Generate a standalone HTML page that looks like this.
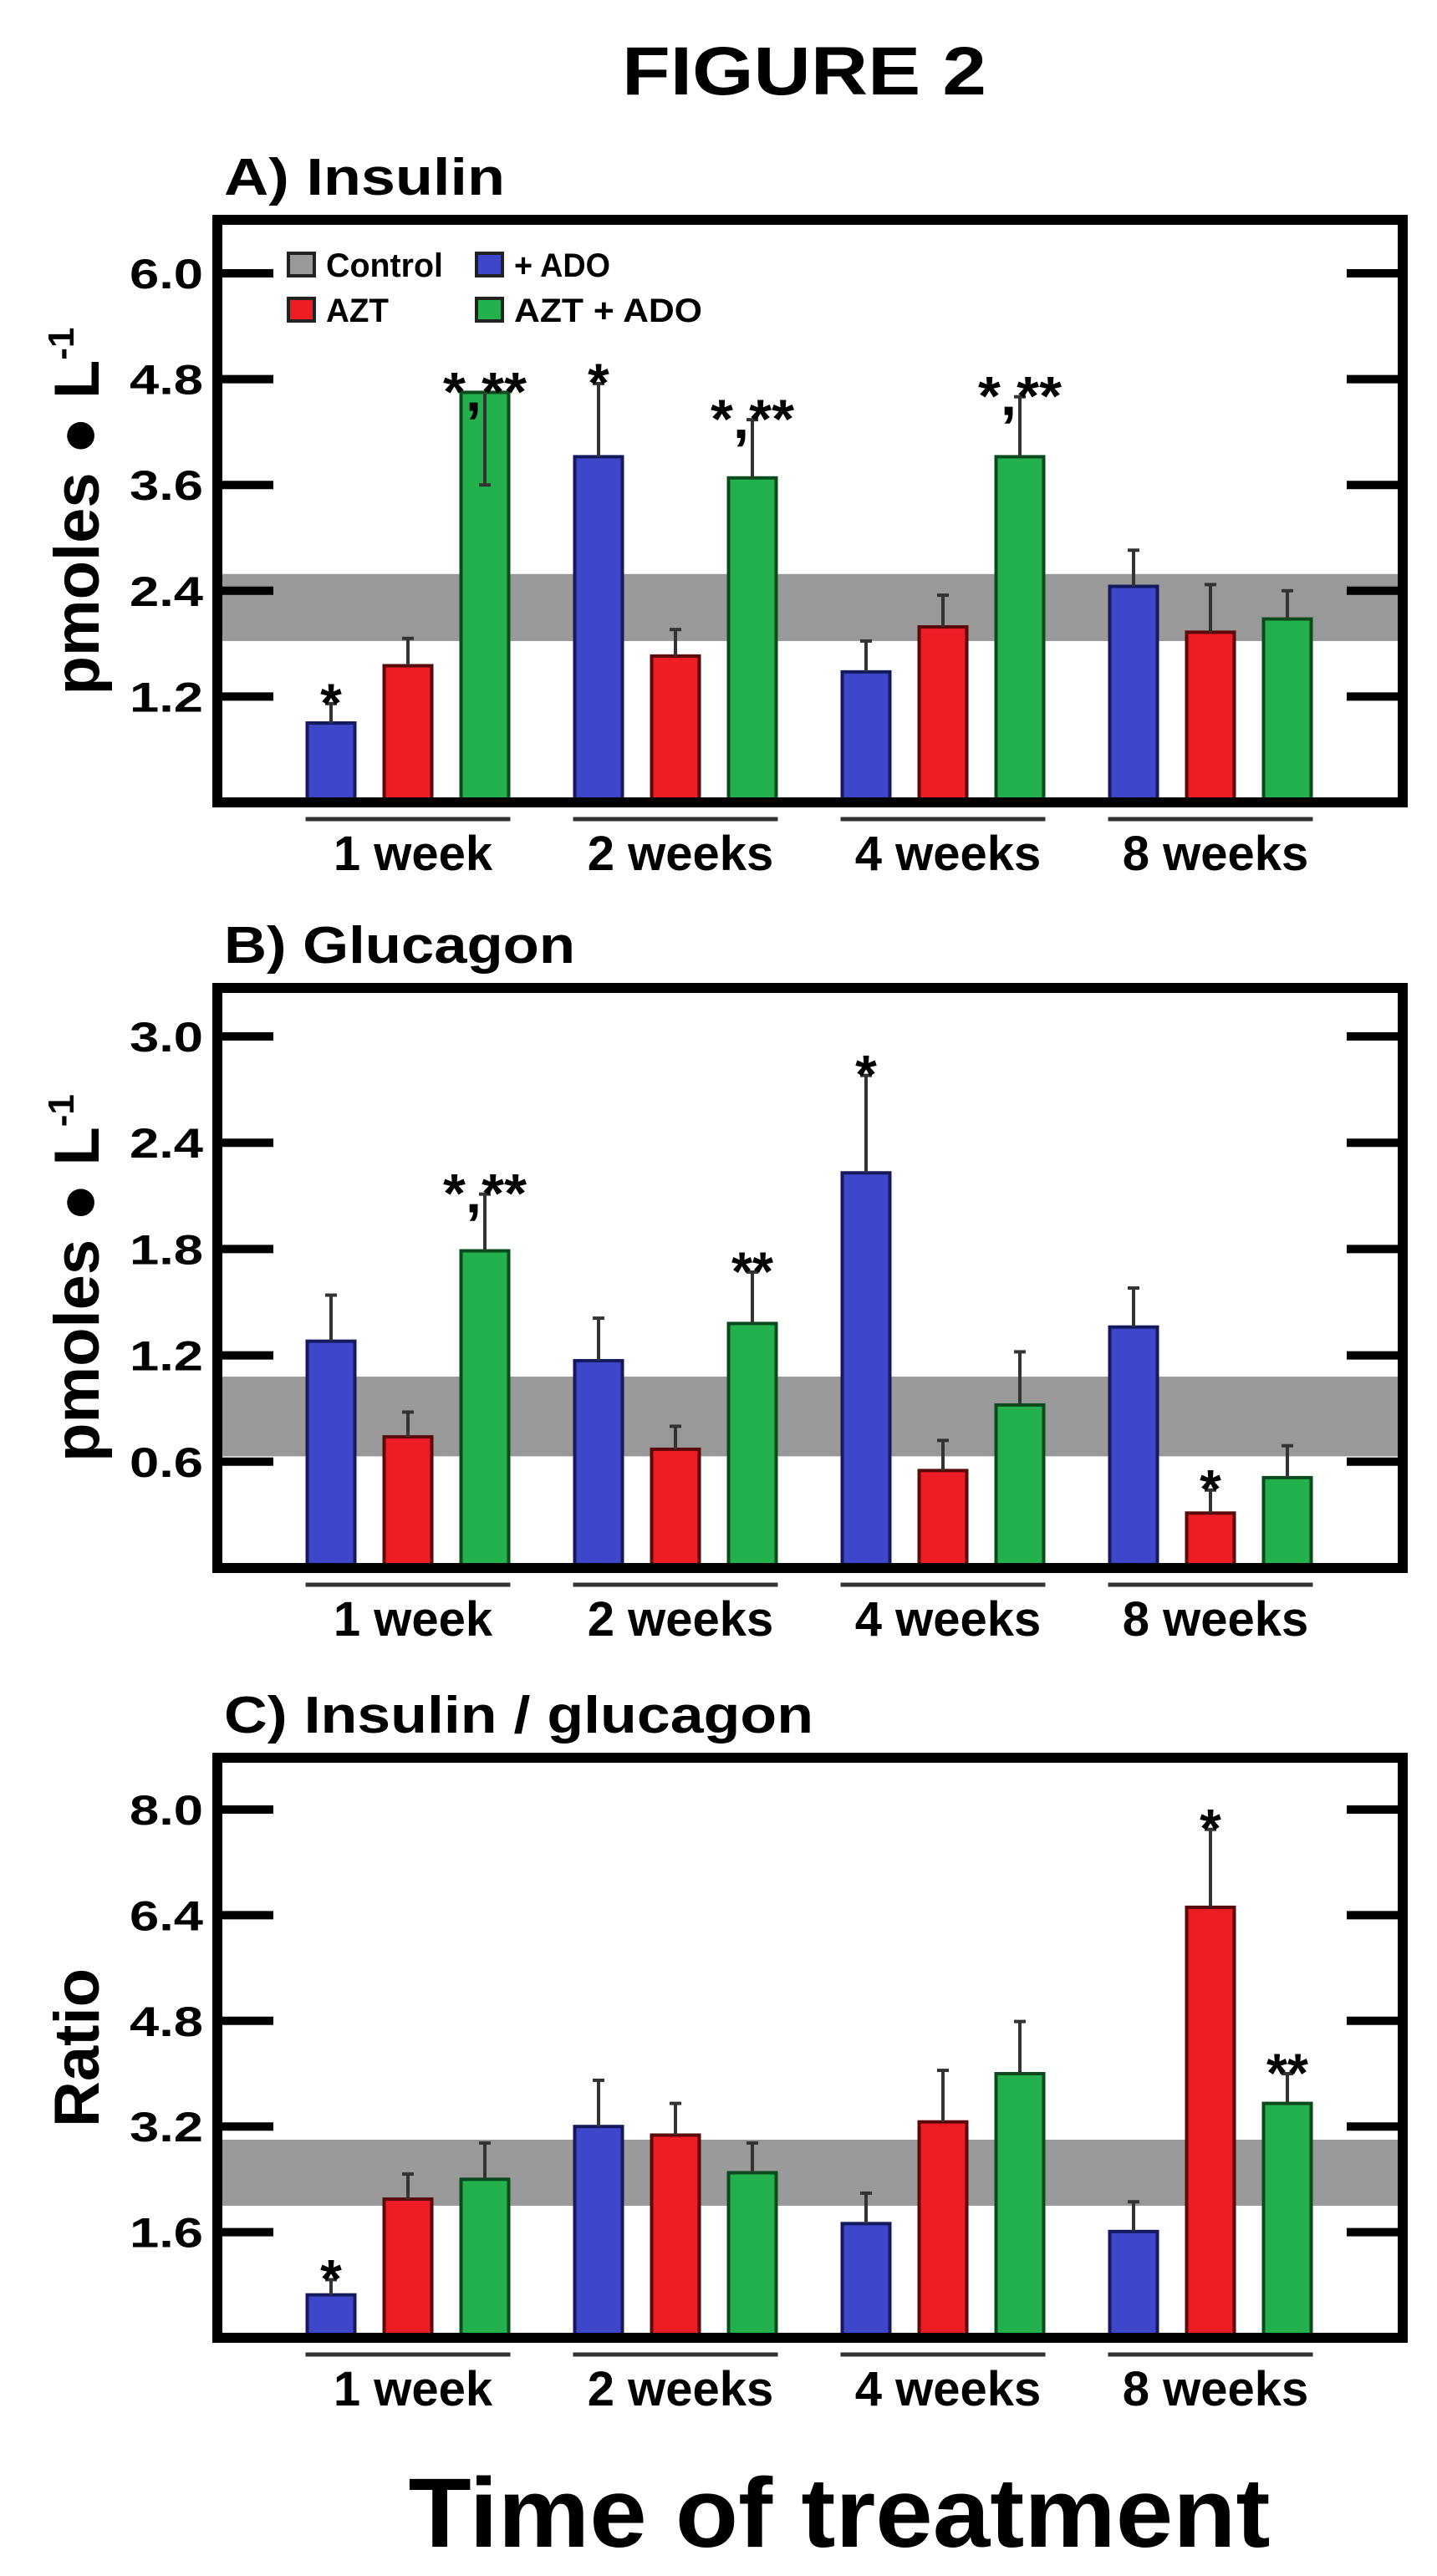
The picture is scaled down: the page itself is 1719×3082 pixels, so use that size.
<!DOCTYPE html>
<html><head><meta charset="utf-8"><style>
html,body{margin:0;padding:0;background:#fff;}
svg{display:block;font-family:"Liberation Sans",Arial,sans-serif;font-weight:bold;}
</style></head><body>
<svg id="fig" width="1719" height="3082" viewBox="0 0 1719 3082" xmlns="http://www.w3.org/2000/svg">
<rect x="0" y="0" width="1719" height="3082" fill="#fff"/>
<text x="962" y="113" font-size="82" text-anchor="middle" textLength="436" lengthAdjust="spacingAndGlyphs">FIGURE 2</text>
<text x="1004" y="3047" font-size="118" text-anchor="middle" textLength="1031" lengthAdjust="spacingAndGlyphs">Time of treatment</text>
</svg>
<script>
// shared categories
const groups = ["1 week", "2 weeks", "4 weeks", "8 weeks"];
const seriesNames = ["+ ADO", "AZT", "AZT + ADO"];

// Panel A: Insulin
const insAdo = [0.90, 3.92, 1.48, 2.45];
const insAzt = [1.55, 1.66, 1.99, 1.93];
const insAztAdo = [4.65, 3.68, 3.92, 2.08];
const insAdoErr = [1.12, 4.75, 1.83, 2.86];
const insAztErr = [1.86, 1.96, 2.35, 2.47];
const insAztAdoErr = [3.60, 4.34, 4.60, 2.40];
const insBand = [1.83, 2.59];
const insTicks = [1.2, 2.4, 3.6, 4.8, 6.0];
const insTickLabels = ["1.2", "2.4", "3.6", "4.8", "6.0"];
const insStars = [["*", "", "*,**"], ["*", "", "*,**"], ["", "", "*,**"], ["", "", ""]];

// Panel B: Glucagon
const glcAdo = [1.28, 1.17, 2.23, 1.36];
const glcAzt = [0.74, 0.67, 0.55, 0.31];
const glcAztAdo = [1.79, 1.38, 0.92, 0.51];
const glcAdoErr = [1.54, 1.41, 2.78, 1.58];
const glcAztErr = [0.88, 0.80, 0.72, 0.44];
const glcAztAdoErr = [2.11, 1.67, 1.22, 0.69];
const glcBand = [0.63, 1.08];
const glcTicks = [0.6, 1.2, 1.8, 2.4, 3.0];
const glcTickLabels = ["0.6", "1.2", "1.8", "2.4", "3.0"];
const glcStars = [["", "", "*,**"], ["", "", "**"], ["*", "", ""], ["", "*", ""]];

// Panel C: Ratio
const ratAdo = [0.65, 3.20, 1.73, 1.61];
const ratAzt = [2.10, 3.07, 3.27, 6.52];
const ratAztAdo = [2.40, 2.50, 4.00, 3.55];
const ratAdoErr = [0.88, 3.90, 2.19, 2.06];
const ratAztErr = [2.48, 3.55, 4.05, 7.70];
const ratAztAdoErr = [2.95, 2.95, 4.79, 4.00];
const ratBand = [2.0, 3.0];
const ratTicks = [1.6, 3.2, 4.8, 6.4, 8.0];
const ratTickLabels = ["1.6", "3.2", "4.8", "6.4", "8.0"];
const ratStars = [["*", "", ""], ["", "", ""], ["", "", ""], ["", "*", "**"]];

const NS = "http://www.w3.org/2000/svg";
const svg = document.getElementById("fig");
const fills = ["#3e47c9", "#ee1c25", "#22b14c"];
const strokes = ["#141a5e", "#5a0a0a", "#0b4a1c"];

function mk(tag, attrs, parent) {
  const e = document.createElementNS(NS, tag);
  for (const k in attrs) e.setAttribute(k, attrs[k]);
  (parent || svg).appendChild(e);
  return e;
}

// x axis: group centers on linear scale
const X0 = 488, XSTEP = 320, OFF = 92, BW = 57;
function xGroup(i) { return X0 + i * XSTEP; }

function panel(cfg) {
  const g = mk("g", {});
  
  
  const L = 260, R = 1678, T = cfg.top, B = cfg.bottom;
  const y = v => B - (v - cfg.vmin) * (B - T) / (cfg.vmax - cfg.vmin);

  const title = mk("text", {x: 268, y: T - 30, "font-size": 62, textLength: cfg.titleLen, lengthAdjust: "spacingAndGlyphs"}, g);
  title.textContent = cfg.title;
  
  

  const band = mk("rect", {x: L, y: y(cfg.band[1]), width: R - L, height: y(cfg.band[0]) - y(cfg.band[1]), fill: "#999999"}, g);
  
  

  cfg.ticks.forEach((t, i) => {
    const yy = y(t);
    const tl = mk("line", {x1: L, x2: L + 67, y1: yy, y2: yy, stroke: "#000", "stroke-width": 10}, g);
    
    
    const tr = mk("line", {x1: R - 67, x2: R, y1: yy, y2: yy, stroke: "#000", "stroke-width": 10}, g);
    
    
    const lab = mk("text", {x: 243, y: yy + 18, "font-size": 50, "text-anchor": "end", textLength: 88, lengthAdjust: "spacingAndGlyphs"}, g);
    lab.textContent = cfg.tickLabels[i];
    
    
  });

  const series = [cfg.ado, cfg.azt, cfg.aztAdo];
  const errs = [cfg.adoErr, cfg.aztErr, cfg.aztAdoErr];
  groups.forEach((gname, i) => {
    const cx = xGroup(i);
    for (let s = 0; s < 3; s++) {
      const bx = cx + (s - 1) * OFF;
      const v = series[s][i], e = errs[s][i];
      const bar = mk("rect", {x: bx - BW / 2, y: y(v), width: BW, height: B - y(v), fill: fills[s], stroke: strokes[s], "stroke-width": 4}, g);
      
      
      const eb = mk("line", {x1: bx, x2: bx, y1: y(v), y2: y(e), stroke: "#333", "stroke-width": 4}, g);
      
      
      const cap = mk("line", {x1: bx - 7, x2: bx + 7, y1: y(e), y2: y(e), stroke: "#333", "stroke-width": 4}, g);
      
      
      const st = cfg.stars[i][s];
      if (st) {
        const ty = Math.min(y(e), y(v)) - 8;
        const attrs = {x: bx, y: ty + 30, "font-size": 66, "text-anchor": "middle"};
        if (st.length > 1) { attrs.textLength = st.length * 25; attrs.lengthAdjust = "spacingAndGlyphs"; }
        const sm = mk("text", attrs, g);
        sm.textContent = st;
        
        
      }
    }
    const ul = mk("line", {x1: cx - OFF - BW / 2 - 2, x2: cx + OFF + BW / 2 + 2, y1: B + 20, y2: B + 20, stroke: "#333", "stroke-width": 5}, g);
    
    
    const gl = mk("text", {x: cx + 6, y: B + 81, "font-size": 58, "text-anchor": "middle"}, g);
    gl.textContent = gname;
    
    
  });

  const frame = mk("rect", {x: L, y: T, width: R - L, height: B - T, fill: "none", stroke: "#000", "stroke-width": 12}, g);
  
  

  const cy = (T + B) / 2;
  const yl = mk("text", {x: 0, y: 0, "font-size": 76, "text-anchor": "middle", transform: "translate(118," + cy + ") rotate(-90)"}, g);
  
  
  if (cfg.ylabel === "Ratio") {
    yl.textContent = "Ratio";
  } else {
    const t1 = mk("tspan", {}, yl); t1.textContent = "pmoles \u25CF L";
    const t2 = mk("tspan", {dy: -30, "font-size": 44}, yl); t2.textContent = "-1";
  }
  return {g, T, L};
}

panel({name: "panel-a-insulin", title: "A) Insulin", titleLen: 336, top: 263, bottom: 960, vmin: 0, vmax: 6.0 * (960 - 263) / (960 - 327),
  ado: insAdo, azt: insAzt, aztAdo: insAztAdo, adoErr: insAdoErr, aztErr: insAztErr, aztAdoErr: insAztAdoErr,
  band: insBand, ticks: insTicks, tickLabels: insTickLabels, stars: insStars, ylabel: "pmoles"});
panel({name: "panel-b-glucagon", title: "B) Glucagon", titleLen: 420, top: 1182, bottom: 1876, vmin: 0, vmax: 3.0 * (1876 - 1182) / (1876 - 1240),
  ado: glcAdo, azt: glcAzt, aztAdo: glcAztAdo, adoErr: glcAdoErr, aztErr: glcAztErr, aztAdoErr: glcAztAdoErr,
  band: glcBand, ticks: glcTicks, tickLabels: glcTickLabels, stars: glcStars, ylabel: "pmoles"});
panel({name: "panel-c-ratio", title: "C) Insulin / glucagon", titleLen: 705, top: 2103, bottom: 2797, vmin: 0, vmax: 8.0 * (2797 - 2103) / (2797 - 2165),
  ado: ratAdo, azt: ratAzt, aztAdo: ratAztAdo, adoErr: ratAdoErr, aztErr: ratAztErr, aztAdoErr: ratAztAdoErr,
  band: ratBand, ticks: ratTicks, tickLabels: ratTickLabels, stars: ratStars, ylabel: "Ratio"});

// Legend (panel A)
const legendNames = ["Control", "+ ADO", "AZT", "AZT + ADO"];
const legendColors = ["#999999", "#3e47c9", "#ee1c25", "#22b14c"];
const legendLens = [140, 115, 75, 225];
const lg = mk("g", {});


legendNames.forEach((n, i) => {
  const col = i % 2, row = Math.floor(i / 2);
  const bx = col ? 570 : 345, by = row ? 357 : 303;
  const box = mk("rect", {x: bx, y: by, width: 31, height: 27, fill: legendColors[i], stroke: "#222", "stroke-width": 4}, lg);
  
  
  const t = mk("text", {x: bx + 45, y: by + 28, "font-size": 40, textLength: legendLens[i], lengthAdjust: "spacingAndGlyphs"}, lg);
  t.textContent = n;
  
  
});
</script>
</body></html>
